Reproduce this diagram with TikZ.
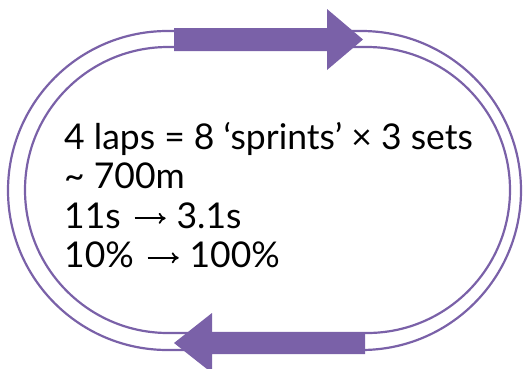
\documentclass[tikz,border=0pt]{standalone}
\usepackage{fontspec}
\setmainfont{Lato}
\usetikzlibrary{positioning,arrows.meta}
\definecolor{trk}{HTML}{7A61A8}
\newcommand{\rarr}{\hspace{13pt}\tikz[baseline=-10pt]\draw[line width=1.8pt,-{To[length=7pt,width=11pt]}] (0pt,0pt) -- (31pt,0pt);\hspace{10pt}}
\tikzset{
  lane/.style={draw=trk,line width=2.2pt},
  dirarrow/.style={fill=trk,draw=none},
  info/.style={align=left,inner sep=0pt,font=\fontsize{35.5}{39.5}\selectfont},
}
\begin{document}
\begin{tikzpicture}[x=1pt,y=-1pt]
\useasboundingbox (0,0) rectangle (528,368);
% track
\draw[lane,rounded corners=159.5pt] (8,31) rectangle (521,350);
\draw[lane,rounded corners=143pt] (25,47) rectangle (510,333);
% running direction
\fill[dirarrow] (174,28) -- (327,28) -- (327,9) -- (363,39.5) -- (327,70)
  -- (327,51) -- (174,51) -- cycle;
\fill[dirarrow] (365,332) -- (212,332) -- (212,313) -- (174,343) -- (212,373)
  -- (212,354) -- (365,354) -- cycle;
% session notes
\node[info,anchor=north west] (notes) at (64,122)
  {4 laps = 8 ‘sprints’ × 3 sets\\
   \textasciitilde{} 700m\\
   11s\rarr{}3.1s\\
   10\%\rarr{}100\%};
\end{tikzpicture}
\end{document}
